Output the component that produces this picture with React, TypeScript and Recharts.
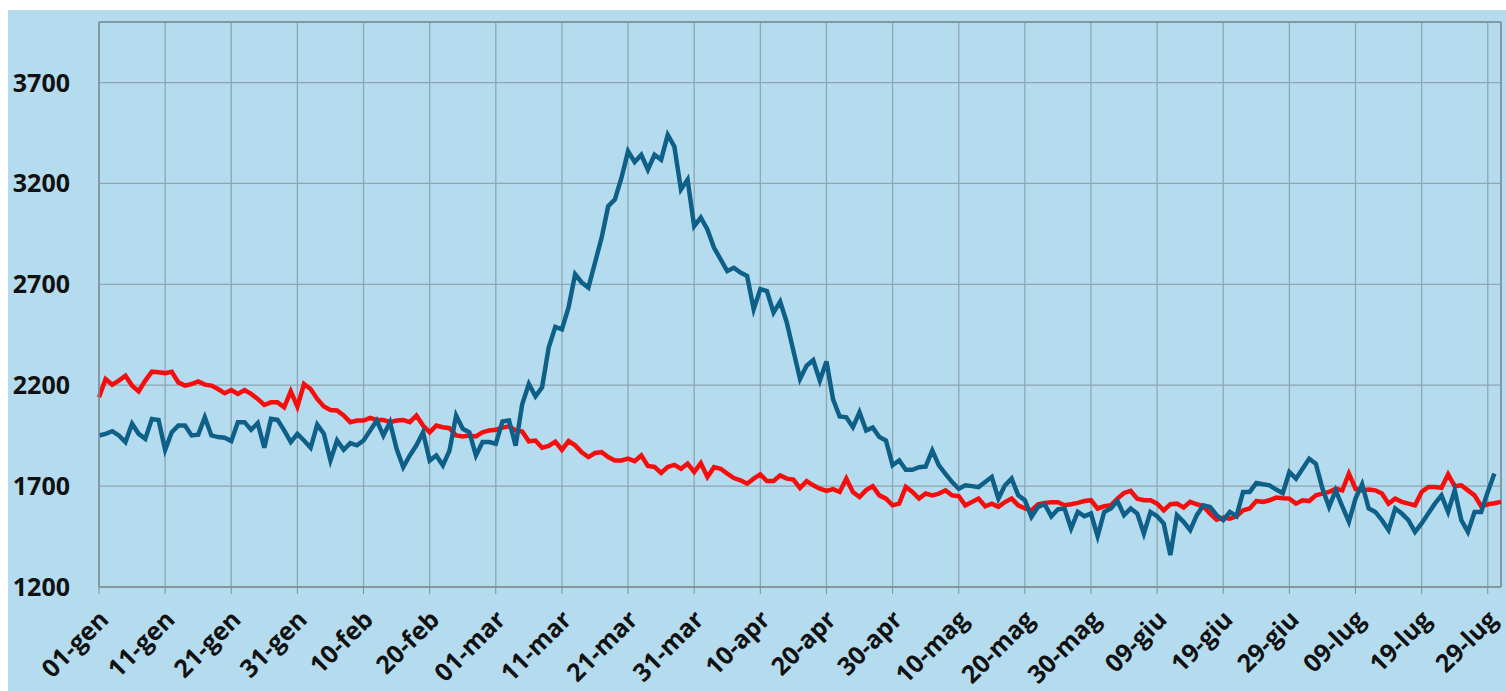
import React from 'react'
import {
  LineChart,
  Line,
  XAxis,
  YAxis,
  CartesianGrid,
  ReferenceLine,
} from 'recharts'

// daily values, 01-gen .. 31-lug
const AVG_YEARS = [
  2140, 2231, 2203, 2223, 2247, 2198, 2170, 2223, 2267, 2264,
  2260, 2267, 2214, 2198, 2206, 2219, 2203, 2198, 2181, 2160,
  2176, 2157, 2176, 2157, 2132, 2102, 2115, 2115, 2091, 2170,
  2094, 2206, 2181, 2132, 2095, 2077, 2075, 2050, 2017, 2025,
  2025, 2038, 2028, 2028, 2017, 2025, 2028, 2017, 2050, 2000,
  1967, 2000, 1992, 1987, 1951, 1946, 1951, 1946, 1967, 1976,
  1979, 1990, 1996, 1976, 1970, 1922, 1926, 1890, 1899, 1920,
  1880, 1923, 1902, 1868, 1844, 1864, 1868, 1844, 1827, 1827,
  1836, 1824, 1852, 1800, 1795, 1765, 1795, 1805, 1786, 1811,
  1770, 1814, 1745, 1794, 1786, 1762, 1740, 1729, 1712, 1737,
  1758, 1725, 1725, 1753, 1737, 1732, 1690, 1725, 1704, 1687,
  1676, 1685, 1671, 1737, 1671, 1646, 1680, 1699, 1654, 1638,
  1605, 1613, 1696, 1671, 1638, 1663, 1654, 1663, 1679, 1654,
  1650, 1605, 1621, 1638, 1600, 1613, 1597, 1621, 1638, 1605,
  1589, 1580, 1610, 1617, 1620, 1620, 1605, 1610, 1617, 1626,
  1630, 1589, 1600, 1605, 1638, 1666, 1676, 1638, 1630, 1630,
  1613, 1580, 1610, 1613, 1594, 1622, 1610, 1600, 1564, 1534,
  1544, 1539, 1551, 1580, 1589, 1626, 1622, 1630, 1643, 1640,
  1638, 1613, 1630, 1626, 1654, 1663, 1671, 1687, 1679, 1762,
  1687, 1679, 1683, 1679, 1663, 1613, 1638, 1622, 1613, 1605,
  1671, 1696, 1696, 1692, 1758, 1699, 1704, 1679, 1654, 1600,
  1610, 1615, 1622,
]

const DEATHS_2020 = [
  1951, 1959, 1972, 1951, 1918, 2009, 1959, 1934, 2033, 2028,
  1880, 1967, 2000, 2000, 1951, 1955, 2041, 1951, 1943, 1940,
  1923, 2017, 2017, 1979, 2012, 1890, 2033, 2028, 1976, 1918,
  1959, 1926, 1890, 2005, 1960, 1827, 1926, 1880, 1913, 1902,
  1926, 1976, 2025, 1951, 2017, 1885, 1794, 1852, 1902, 1967,
  1827, 1852, 1803, 1876, 2050, 1984, 1967, 1852, 1918, 1918,
  1910, 2020, 2025, 1900, 2107, 2206, 2145, 2190, 2387, 2489,
  2477, 2585, 2750, 2709, 2684, 2807, 2931, 3087, 3120, 3227,
  3359, 3306, 3342, 3268, 3342, 3318, 3441, 3383, 3170, 3219,
  2988, 3031, 2972, 2881, 2824, 2766, 2782, 2758, 2741, 2577,
  2676, 2667, 2560, 2614, 2511, 2371, 2231, 2297, 2324, 2223,
  2318, 2130, 2045, 2041, 1992, 2066, 1976, 1990, 1943, 1926,
  1803, 1827, 1781, 1781, 1794, 1797, 1877, 1803, 1761, 1720,
  1687, 1704, 1700, 1695, 1720, 1745, 1638, 1704, 1737, 1654,
  1630, 1547, 1597, 1610, 1550, 1585, 1589, 1490, 1572, 1551,
  1564, 1452, 1572, 1589, 1626, 1556, 1589, 1564, 1465, 1572,
  1551, 1515, 1358, 1556, 1523, 1482, 1556, 1605, 1597, 1556,
  1531, 1572, 1551, 1671, 1671, 1715, 1709, 1704, 1683, 1665,
  1770, 1737, 1786, 1836, 1811, 1688, 1597, 1679, 1600, 1523,
  1638, 1709, 1589, 1572, 1531, 1482, 1589, 1564, 1531, 1473,
  1515, 1564, 1613, 1654, 1572, 1679, 1531, 1473, 1572, 1572,
  1671, 1762,
]

const TICK_LABELS = [
  '01-gen', '11-gen', '21-gen', '31-gen', '10-feb', '20-feb', '01-mar',
  '11-mar', '21-mar', '31-mar', '10-apr', '20-apr', '30-apr', '10-mag',
  '20-mag', '30-mag', '09-giu', '19-giu', '29-giu', '09-lug', '19-lug',
  '29-lug',
]
const TICK_DAYS = TICK_LABELS.map((_, i) => i * 10)
const Y_TICKS = [1200, 1700, 2200, 2700, 3200, 3700]

const data = AVG_YEARS.map((v, i) => ({
  day: i,
  avg: v,
  y2020: DEATHS_2020[i],
}))

const FONT = '"Open Sans", Arial, sans-serif'
const GRID = '#8fa6b1'
const AXIS = '#7e8f98'

const XTick = (props: any) => {
  const { x, payload } = props
  const label = TICK_LABELS[Math.round(payload.value / 10)]
  return (
    <g transform={`translate(${x + 5},${615})`}>
      <text
        transform="rotate(-45)"
        textAnchor="end"
        dy="0.35em"
        fontFamily={FONT}
        fontWeight={700}
        fontSize={25}
        fill="#111"
      >
        {label}
      </text>
    </g>
  )
}

const YTick = (props: any) => {
  const { y, payload } = props
  return (
    <text
      x={70}
      y={y}
      dy="0.36em"
      textAnchor="end"
      fontFamily={FONT}
      fontWeight={700}
      fontSize={25}
      fill="#111"
    >
      {payload.value}
    </text>
  )
}

export default function App() {
  return (
    <div
      style={{
        position: 'absolute',
        left: 0,
        top: 0,
        width: 1506,
        height: 691,
        background: '#fff',
        overflow: 'hidden',
      }}
    >
      <div
        style={{
          position: 'absolute',
          left: 8,
          top: 10,
          right: 0,
          bottom: 0,
          background: '#b4dcee',
        }}
      />
      <div style={{ position: 'absolute', left: 0, top: 0 }}>
        <LineChart
          width={1506}
          height={691}
          data={data}
          margin={{ top: 22, right: 5, bottom: 0, left: 0 }}
        >
          <CartesianGrid stroke={GRID} strokeWidth={1.3} />
          <XAxis
            dataKey="day"
            type="number"
            domain={[0, 212]}
            ticks={TICK_DAYS}
            interval={0}
            height={104}
            tickSize={7}
            tickLine={{ stroke: AXIS }}
            axisLine={{ stroke: AXIS, strokeWidth: 1.5 }}
            tick={<XTick />}
          />
          <YAxis
            type="number"
            domain={[1200, 4000]}
            ticks={Y_TICKS}
            interval={0}
            width={99}
            tickLine={false}
            axisLine={{ stroke: AXIS, strokeWidth: 1.5 }}
            tick={<YTick />}
          />
          <ReferenceLine y={4000} stroke={AXIS} strokeWidth={1.5} />
          <ReferenceLine x={212} stroke={AXIS} strokeWidth={1.5} />
          <Line
            dataKey="avg"
            stroke="#f80d0d"
            strokeWidth={4.5}
            dot={false}
            type="linear"
            isAnimationActive={false}
          />
          <Line
            dataKey="y2020"
            stroke="#0f6088"
            strokeWidth={4.5}
            dot={false}
            type="linear"
            isAnimationActive={false}
          />
        </LineChart>
      </div>
    </div>
  )
}
